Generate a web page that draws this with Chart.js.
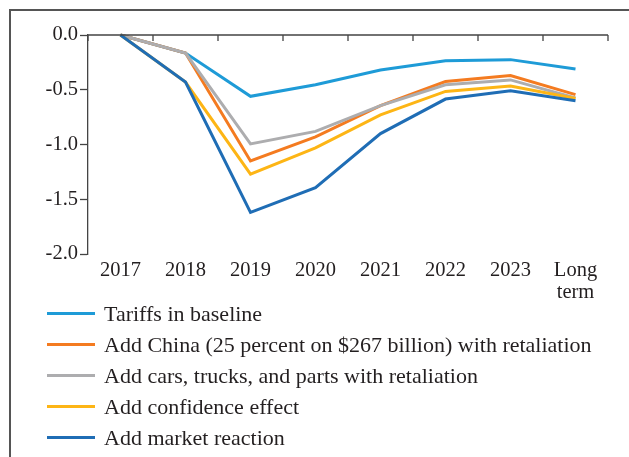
<!DOCTYPE html>
<html>
<head>
<meta charset="utf-8">
<script src="https://cdn.jsdelivr.net/npm/chart.js@4.4.0/dist/chart.umd.min.js"></script>
<style>
    html, body { margin: 0; padding: 0; background: #fff; }
    #wrap { position: relative; width: 629px; height: 457px; overflow: hidden; }
    #frame { position: absolute; left: 9px; top: 9px; width: 640px; height: 460px;
             border-left: 2px solid #555; border-top: 2px solid #555; }
    #chartBox { position: absolute; left: 0; top: 0; width: 629px; height: 304px; }
    #legend { position: absolute; left: 47px; top: 298px; font-family: "Liberation Serif", serif;
              font-size: 22px; color: #231f20; }
    .item { height: 31px; display: flex; align-items: center; }
    .swatch { width: 48px; height: 3px; margin-right: 9px; }
</style>
</head>
<body>
<div id="wrap">
    <div id="frame"></div>
    <div id="chartBox"><canvas id="gdpChart" width="629" height="304"></canvas></div>
    <div id="legend"></div>
</div>
<script>
// categories and scenario series (percent deviation)
const years = ['2017', '2018', '2019', '2020', '2021', '2022', '2023', ['Long', 'term']];
const seriesNames = [
    'Tariffs in baseline',
    'Add China (25 percent on $267 billion) with retaliation',
    'Add cars, trucks, and parts with retaliation',
    'Add confidence effect',
    'Add market reaction'
];
const baseline   = [0, -0.165, -0.56, -0.455, -0.32, -0.235, -0.225, -0.31];
const addChina   = [0, -0.165, -1.15, -0.93, -0.645, -0.425, -0.37, -0.545];
const addCars    = [0, -0.165, -0.995, -0.88, -0.645, -0.455, -0.41, -0.575];
const confidence = [0, -0.43, -1.27, -1.03, -0.73, -0.515, -0.465, -0.58];
const market     = [0, -0.43, -1.62, -1.395, -0.9, -0.585, -0.51, -0.6];
const yTicks = [0, -0.5, -1.0, -1.5, -2.0];

const colors = ['#1e9bd7', '#f47b20', '#adadaf', '#fdb515', '#1f6db5'];
const allSeries = [baseline, addChina, addCars, confidence, market];

const serif = '"Liberation Serif", serif';

// top zero line with small downward ticks at category boundaries
const zeroAxis = {
    id: 'zeroAxis',
    afterDraw(chart) {
        const x = chart.scales.x, y = chart.scales.y;
        const ctx = chart.ctx;
        const y0 = y.getPixelForValue(0);
        ctx.save();
        ctx.strokeStyle = '#444';
        ctx.lineWidth = 1.3;
        ctx.beginPath();
        ctx.moveTo(x.left, y0);
        ctx.lineTo(x.right, y0);
        const step = x.getPixelForValue(1) - x.getPixelForValue(0);
        for (let i = 0; i <= years.length; i++) {
            const px = x.getPixelForValue(0) - step / 2 + i * step;
            ctx.moveTo(px, y0);
            ctx.lineTo(px, y0 + 6);
        }
        ctx.stroke();
        ctx.restore();
    }
};

new Chart(document.getElementById('gdpChart'), {
    type: 'line',
    data: {
        labels: years,
        datasets: allSeries.map((d, i) => ({
            label: seriesNames[i],
            data: d,
            borderColor: colors[i],
            backgroundColor: colors[i],
            borderWidth: 3,
            pointRadius: 0,
            tension: 0,
            clip: false,
            order: allSeries.length - i
        }))
    },
    options: {
        responsive: false,
        animation: false,
        layout: { padding: { left: 10, top: 35, right: 21, bottom: 0 } },
        plugins: { legend: { display: false }, tooltip: { enabled: false } },
        scales: {
            x: {
                offset: true,
                grid: { display: false },
                border: { display: false },
                ticks: { color: '#231f20', font: { family: serif, size: 20.5, lineHeight: 1.1 }, padding: -3, maxRotation: 0 },
                afterFit(scale) { scale.height = 50; }
            },
            y: {
                min: -2, max: 0,
                afterBuildTicks(scale) { scale.ticks = yTicks.map(v => ({ value: v })); },
                grid: { drawOnChartArea: false, tickLength: 8, color: '#444', tickWidth: 1.3 },
                border: { display: true, color: '#444', width: 1.3 },
                ticks: {
                    color: '#231f20', font: { family: serif, size: 20.5 }, padding: 2,
                    callback: v => v.toFixed(1)
                },
                afterFit(scale) { scale.width = 78; }
            }
        }
    },
    plugins: [zeroAxis]
});

// legend, one row per scenario
const legend = document.getElementById('legend');
seriesNames.forEach((name, i) => {
    const row = document.createElement('div');
    row.className = 'item';
    row.innerHTML = `<span class="swatch" style="background:${colors[i]}"></span><span>${name}</span>`;
    legend.appendChild(row);
});
</script>
</body>
</html>
